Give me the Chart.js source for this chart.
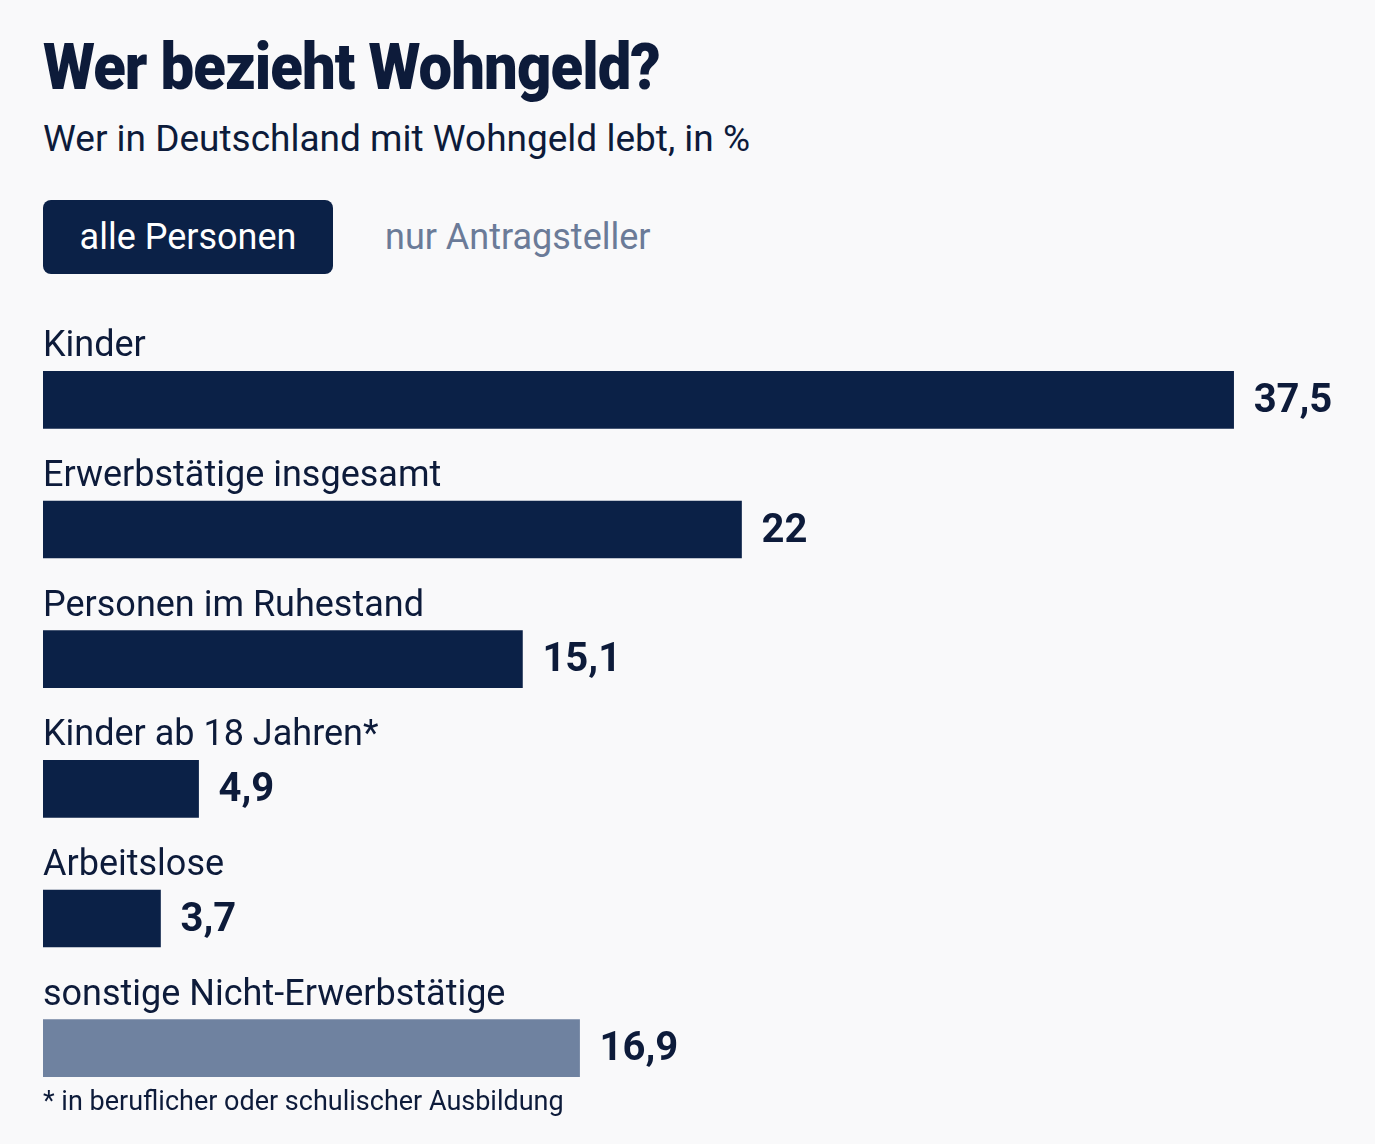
<!DOCTYPE html>
<html lang="de">

<head>
    <meta charset="UTF-8">
    <title>Wer bezieht Wohngeld?</title>
    <script src="https://cdn.jsdelivr.net/npm/chart.js"></script>
    <style>
        body {
            margin: 0;
            width: 1375px;
            height: 1144px;
            background: #f9f9fa;
            font-family: Roboto, 'Noto Sans', sans-serif;
            color: #0d1b3a;
            position: relative;
            overflow: hidden;
        }

        .titel {
            position: absolute;
            left: 43px;
            top: 29px;
            margin: 0;
            font-size: 65px;
            font-weight: 900;
            letter-spacing: -1px;
            transform: scaleX(0.92);
            transform-origin: left top;
            white-space: nowrap;
        }

        .untertitel {
            position: absolute;
            left: 43px;
            top: 117px;
            margin: 0;
            font-size: 37px;
            font-weight: 400;
        }

        .umschalter {
            position: absolute;
            left: 43px;
            top: 200px;
            display: flex;
            align-items: center;
        }

        .umschalter .aktiv {
            width: 290px;
            height: 74px;
            border-radius: 8px;
            background: #0b2147;
            color: #fff;
            font-size: 36px;
            display: flex;
            align-items: center;
            justify-content: center;
        }

        .umschalter .inaktiv {
            margin-left: 52px;
            color: #6b7b98;
            font-size: 36px;
        }

        .chart-container {
            position: absolute;
            left: 0;
            top: 300px;
            width: 1375px;
            height: 844px;
        }

        .fussnote {
            position: absolute;
            left: 43px;
            top: 1085px;
            font-size: 27px;
        }
    </style>
</head>

<body>
    <h1 class="titel">Wer bezieht Wohngeld?</h1>
    <p class="untertitel">Wer in Deutschland mit Wohngeld lebt, in %</p>
    <div class="umschalter">
        <div class="aktiv">alle Personen</div>
        <div class="inaktiv">nur Antragsteller</div>
    </div>

    <div class="chart-container">
        <canvas id="grafico-wohngeld"></canvas>
    </div>

    <div class="fussnote">* in beruflicher oder schulischer Ausbildung</div>

    <script>
        // dados do grafico
        const kategorien = ['Kinder', 'Erwerbstätige insgesamt', 'Personen im Ruhestand', 'Kinder ab 18 Jahren*', 'Arbeitslose', 'sonstige Nicht-Erwerbstätige'];
        const anteile = [37.5, 22, 15.1, 4.9, 3.7, 16.9];
        const farben = ['#0b2147', '#0b2147', '#0b2147', '#0b2147', '#0b2147', '#6f82a0'];

        // plugin: rotulos acima da barra e valor no fim
        const beschriftungen = {
            id: 'beschriftungen',
            afterDatasetsDraw(chart) {
                const ctx = chart.ctx;
                const meta = chart.getDatasetMeta(0);
                ctx.save();
                meta.data.forEach((bar, i) => {
                    const oben = bar.y - bar.height / 2;
                    ctx.fillStyle = '#0d1b3a';
                    ctx.font = '400 36px Roboto, sans-serif';
                    ctx.textAlign = 'left';
                    ctx.textBaseline = 'alphabetic';
                    ctx.fillText(kategorien[i], chart.chartArea.left, oben - 15);

                    ctx.font = '700 40px Roboto, sans-serif';
                    ctx.textBaseline = 'middle';
                    const text = anteile[i].toLocaleString('de-DE');
                    ctx.fillText(text, bar.x + 20, bar.y + 2);
                });
                ctx.restore();
            }
        };

        const ctx = document.getElementById('grafico-wohngeld').getContext('2d');
        new Chart(ctx, {
            type: 'bar',
            data: {
                labels: kategorien,
                datasets: [{
                    data: anteile,
                    backgroundColor: farben,
                    borderWidth: 0,
                    barThickness: 57
                }]
            },
            options: {
                indexAxis: 'y',
                responsive: true,
                maintainAspectRatio: false,
                animation: false,
                layout: {
                    padding: { left: 43, right: 62, top: 35, bottom: 31 }
                },
                scales: {
                    x: { display: false, min: 0, max: 40 },
                    y: { display: false }
                },
                plugins: {
                    legend: { display: false },
                    tooltip: { enabled: false }
                }
            },
            plugins: [beschriftungen]
        });
    </script>
</body>

</html>
